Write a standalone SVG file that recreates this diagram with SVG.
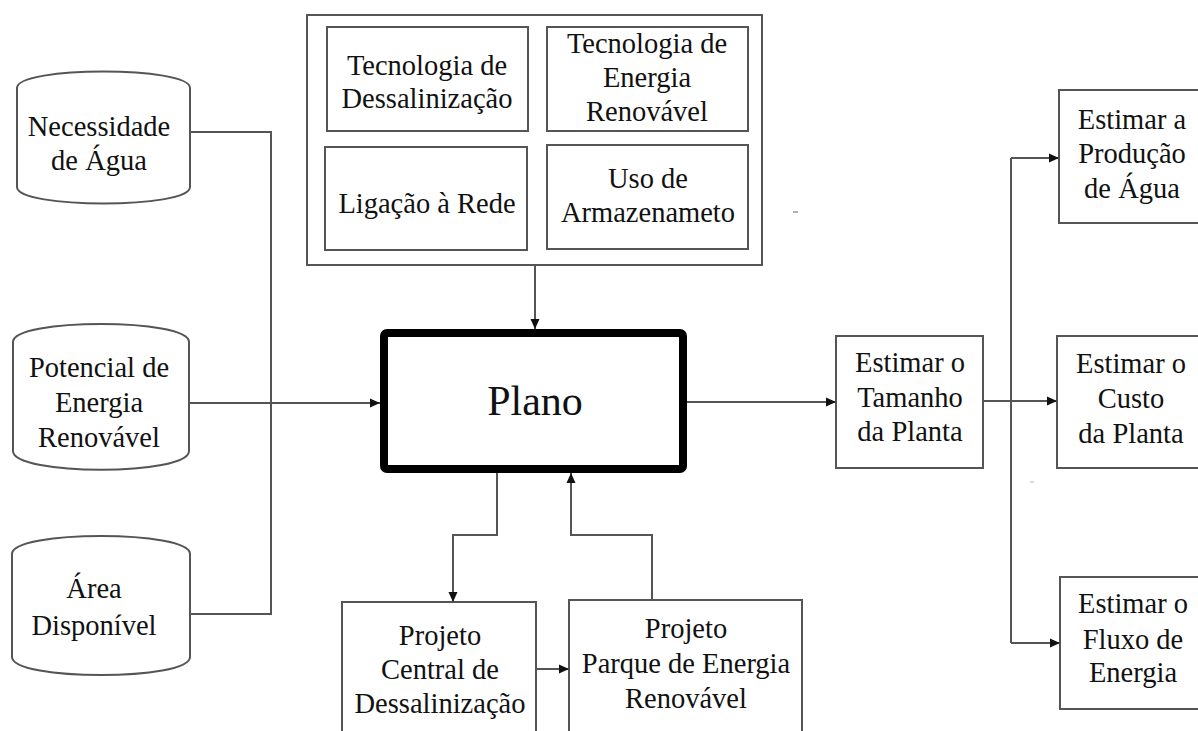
<svg xmlns="http://www.w3.org/2000/svg" width="1198" height="731" viewBox="0 0 1198 731">
<style>
text{font-family:"Liberation Serif","Times New Roman",serif;font-size:28.5px;fill:#111;text-anchor:middle}
.box{fill:#fff;stroke:#555;stroke-width:2}
.cyl{fill:#fff;stroke:#555;stroke-width:2}
.con{fill:none;stroke:#555;stroke-width:2}
</style>
<defs>
<marker id="ah" viewBox="0 0 10 10" refX="10" refY="5" markerWidth="10" markerHeight="10" markerUnits="userSpaceOnUse" orient="auto">
<path d="M0,0.5 L10,5 L0,9.5 Z" fill="#111"/>
</marker>
</defs>
<rect width="1198" height="731" fill="#fff"/>

<g id="n-necessidade">
<path class="cyl" d="M17,88 C17,66 190,66 190,88 V187 C190,209 17,209 17,187 Z"/>
<text x="99" y="136">Necessidade</text>
<text x="99" y="170">de Água</text>
</g>
<g id="n-potencial">
<path class="cyl" d="M13,342 C13,318 189,318 189,342 V451 C189,476 13,476 13,451 Z"/>
<text x="99" y="377">Potencial de</text>
<text x="99" y="412">Energia</text>
<text x="99" y="447">Renovável</text>
</g>
<g id="n-area">
<path class="cyl" d="M12,554 C12,530 190,530 190,554 V657 C190,681 12,681 12,657 Z"/>
<text x="94" y="598">Área</text>
<text x="94" y="635">Disponível</text>
</g>

<g id="n-tecnologias">
<rect class="box" x="307" y="15" width="455" height="250"/>
<g id="n-tec-dessal">
<rect class="box" x="327" y="27" width="201" height="104"/>
<text x="427" y="75">Tecnologia de</text>
<text x="427" y="108">Dessalinização</text>
</g>
<g id="n-tec-energia">
<rect class="box" x="547" y="27" width="201" height="104"/>
<text x="647" y="53">Tecnologia de</text>
<text x="647" y="87">Energia</text>
<text x="647" y="121">Renovável</text>
</g>
<g id="n-ligacao">
<rect class="box" x="325" y="147" width="202" height="103"/>
<text x="427" y="213">Ligação à Rede</text>
</g>
<g id="n-armazenamento">
<rect class="box" x="547" y="145" width="201" height="104"/>
<text x="648" y="188">Uso de</text>
<text x="648" y="222">Armazenameto</text>
</g>
</g>

<g id="n-plano">
<rect x="384" y="333" width="299" height="136" rx="3" fill="#fff" stroke="#000" stroke-width="8"/>
<text x="535" y="415" style="font-size:42px">Plano</text>
</g>

<g id="n-central">
<rect class="box" x="342" y="602" width="194" height="140"/>
<text x="440" y="645">Projeto</text>
<text x="440" y="679">Central de</text>
<text x="440" y="713">Dessalinização</text>
</g>
<g id="n-parque">
<rect class="box" x="569" y="600" width="233" height="142"/>
<text x="686" y="638">Projeto</text>
<text x="686" y="673">Parque de Energia</text>
<text x="686" y="708">Renovável</text>
</g>

<g id="n-tamanho">
<rect class="box" x="836" y="336" width="147" height="132"/>
<text x="910" y="372">Estimar o</text>
<text x="910" y="407">Tamanho</text>
<text x="910" y="441">da Planta</text>
</g>
<g id="n-producao">
<rect class="box" x="1059" y="90" width="150" height="133"/>
<text x="1132" y="129">Estimar a</text>
<text x="1132" y="163">Produção</text>
<text x="1132" y="198">de Água</text>
</g>
<g id="n-custo">
<rect class="box" x="1057" y="336" width="150" height="132"/>
<text x="1131" y="373">Estimar o</text>
<text x="1131" y="408">Custo</text>
<text x="1131" y="443">da Planta</text>
</g>
<g id="n-fluxo">
<rect class="box" x="1060" y="577" width="150" height="132"/>
<text x="1133" y="613">Estimar o</text>
<text x="1133" y="649">Fluxo de</text>
<text x="1133" y="682">Energia</text>
</g>

<g id="connectors">
<path class="con" d="M190,132 H271 V614 H190"/>
<path class="con" d="M189,403 H380" marker-end="url(#ah)"/>
<path class="con" d="M535,265 V329" marker-end="url(#ah)"/>
<path class="con" d="M687,402 H836" marker-end="url(#ah)"/>
<path class="con" d="M497,473 V535 H453 V602" marker-end="url(#ah)"/>
<path class="con" d="M652,600 V535 H571 V473" marker-end="url(#ah)"/>
<path class="con" d="M536,669 H569" marker-end="url(#ah)"/>
<path class="con" d="M983,401 H1057" marker-end="url(#ah)"/>
<path class="con" d="M1011,158 V643"/>
<path class="con" d="M1011,158 H1059" marker-end="url(#ah)"/>
<path class="con" d="M1011,643 H1060" marker-end="url(#ah)"/>
</g>
<line x1="793" y1="212" x2="798" y2="212" stroke="#999" stroke-width="1.5"/>
<line x1="1030" y1="482" x2="1034" y2="482" stroke="#ccc" stroke-width="1.5"/>
</svg>
